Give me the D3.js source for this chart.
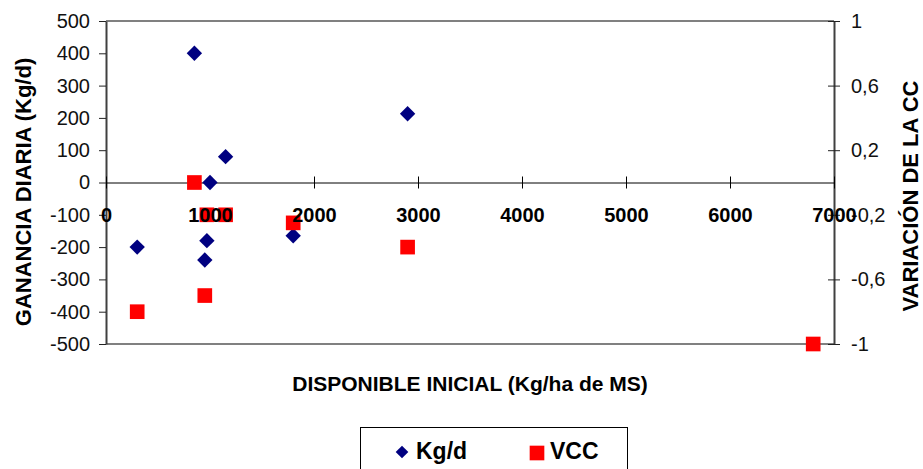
<!DOCTYPE html>
<html>
<head>
<meta charset="utf-8">
<script src="https://cdn.jsdelivr.net/npm/d3@7"></script>
<style>
body { margin:0; background:#fff; }
svg { display:block; font-family:"Liberation Sans", Arial, sans-serif; }
</style>
</head>
<body>
<div class="chart1"></div>
<script>
// Kg/d series (left axis)
var kgX = [300, 850, 950, 970, 1000, 1150, 1800, 2900];
var kgY = [-200, 400, -240, -180, 0, 80, -165, 213];
// VCC series (right axis)
var vccX = [300, 850, 950, 970, 1150, 1800, 2900, 6800];
var vccY = [-0.8, 0, -0.7, -0.2, -0.2, -0.25, -0.4, -1];
// ticks
var xTicks = [0, 1000, 2000, 3000, 4000, 5000, 6000, 7000];
var leftTicks = [-500, -400, -300, -200, -100, 0, 100, 200, 300, 400, 500];
var rightTicks = [-1, -0.6, -0.2, 0.2, 0.6, 1];

var width = 923, height = 469;
var loc = d3.formatLocale({decimal: ",", thousands: ".", grouping: [3], currency: ["", ""], minus: "-"});

var x = d3.scaleLinear().domain([0, 7000]).range([106, 834]);
var yL = d3.scaleLinear().domain([-500, 500]).range([344, 21]);
var yR = d3.scaleLinear().domain([-1, 1]).range([344, 21]);

var svg = d3.select(".chart1")
	.append("svg")
	.attr("width", width)
	.attr("height", height);

// frame top/bottom
svg.append("line").attr("x1", x(0)).attr("x2", x(7000)).attr("y1", yL(500)).attr("y2", yL(500))
	.attr("stroke", "#808080").attr("stroke-width", 2);
svg.append("line").attr("x1", x(0)).attr("x2", x(7000)).attr("y1", yL(-500)).attr("y2", yL(-500))
	.attr("stroke", "#808080").attr("stroke-width", 2);

// left axis
var gl = svg.append("g")
	.attr("transform", "translate(" + x(0) + ",0)")
	.call(d3.axisLeft(yL).tickValues(leftTicks).tickSize(7).tickSizeOuter(0).tickPadding(9).tickFormat(loc.format("d")));
gl.select(".domain").attr("stroke", "#404040").attr("stroke-width", 2);
gl.selectAll(".tick line").attr("stroke", "#222");
gl.selectAll("text").style("font-size", "20px").attr("fill", "#111");

// right axis, ticks cross the line
var gr = svg.append("g")
	.attr("transform", "translate(" + x(7000) + ",0)")
	.call(d3.axisRight(yR).tickValues(rightTicks).tickSize(6).tickSizeOuter(0).tickPadding(11).tickFormat(loc.format("")));
gr.select(".domain").attr("stroke", "#404040").attr("stroke-width", 2);
gr.selectAll(".tick line").attr("x1", -6).attr("stroke", "#222");
gr.selectAll("text").style("font-size", "20px").attr("fill", "#111");

// x axis on the zero line (lines only)
var gx = svg.append("g")
	.attr("transform", "translate(0," + yL(0) + ")")
	.call(d3.axisBottom(x).tickValues(xTicks).tickSize(6).tickSizeOuter(0).tickFormat(""));
gx.select(".domain").attr("stroke", "#000");
gx.selectAll(".tick line").attr("y1", -6).attr("stroke", "#000");

// points
var kgData = kgX.map(function(d, i){ return {x: d, y: kgY[i]}; });
var vccData = vccX.map(function(d, i){ return {x: d, y: vccY[i]}; });

svg.selectAll(".kg")
	.data(kgData)
	.enter()
	.append("path")
	.attr("class", "kg")
	.attr("d", d3.symbol().type(d3.symbolSquare).size(118))
	.attr("transform", function(d){ return "translate(" + x(d.x) + "," + yL(d.y) + ") rotate(45)"; })
	.attr("fill", "#000080");

svg.selectAll(".vcc")
	.data(vccData)
	.enter()
	.append("path")
	.attr("class", "vcc")
	.attr("d", d3.symbol().type(d3.symbolSquare).size(215))
	.attr("transform", function(d){ return "translate(" + x(d.x) + "," + yR(d.y) + ")"; })
	.attr("fill", "#ff0000");

// x tick labels drawn over the points
var gxt = svg.append("g")
	.attr("transform", "translate(0," + yL(0) + ")")
	.call(d3.axisBottom(x).tickValues(xTicks).tickSize(0).tickPadding(0).tickFormat(loc.format("d")));
gxt.select(".domain").remove();
gxt.selectAll("text")
	.attr("y", 39).attr("dy", 0)
	.style("font-size", "20px").style("font-weight", "bold").attr("fill", "#000");

// axis titles
svg.append("text")
	.attr("x", 470).attr("y", 391)
	.style("text-anchor", "middle").style("font-size", "21px").style("font-weight", "bold")
	.text("DISPONIBLE INICIAL (Kg/ha de MS)");
svg.append("text")
	.attr("transform", "translate(31,192) rotate(-90)")
	.style("text-anchor", "middle").style("font-size", "22px").style("font-weight", "bold")
	.text("GANANCIA DIARIA (Kg/d)");
svg.append("text")
	.attr("transform", "translate(918,196) rotate(-90)")
	.style("text-anchor", "middle").style("font-size", "22px").style("font-weight", "bold")
	.text("VARIACIÓN DE LA CC");

// legend
var lg = svg.append("g");
lg.append("rect").attr("x", 360.5).attr("y", 427.5).attr("width", 267).attr("height", 60)
	.attr("fill", "#fff").attr("stroke", "#000");
lg.append("path").attr("d", d3.symbol().type(d3.symbolSquare).size(80))
	.attr("transform", "translate(402,452) rotate(45)").attr("fill", "#000080");
lg.append("text").attr("x", 416).attr("y", 459).style("font-size", "23px").style("font-weight", "bold").text("Kg/d");
lg.append("path").attr("d", d3.symbol().type(d3.symbolSquare).size(215))
	.attr("transform", "translate(537,453)").attr("fill", "#ff0000");
lg.append("text").attr("x", 550).attr("y", 459).style("font-size", "23px").style("font-weight", "bold").text("VCC");
</script>
</body>
</html>
